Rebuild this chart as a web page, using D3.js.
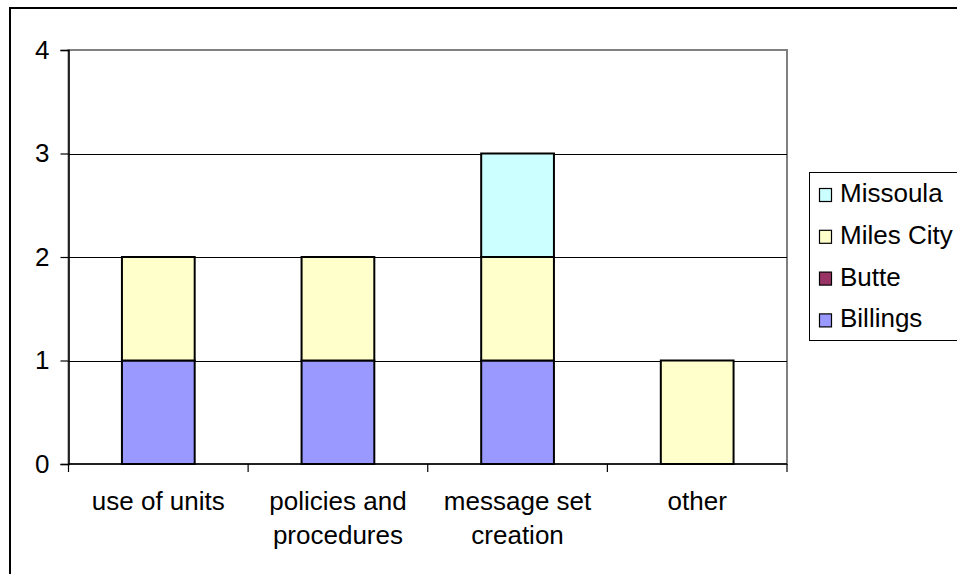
<!DOCTYPE html>
<html>
<head>
<meta charset="utf-8">
<script src="https://cdn.jsdelivr.net/npm/d3@7"></script>
<style>
  html, body { margin: 0; padding: 0; background: #fff; }
  svg { display: block; font-family: "Liberation Sans", Arial, sans-serif; }
</style>
</head>
<body>
<svg id="chart" width="957" height="574"></svg>
<script>
// Categories along the x axis
const categories = ["use of units", "policies and procedures", "message set creation", "other"];

// Stacked series, bottom to top
const billings  = [1, 1, 1, 0];
const butte     = [0, 0, 0, 0];
const milesCity = [1, 1, 1, 1];
const missoula  = [0, 0, 1, 0];

const seriesNames  = ["Billings", "Butte", "Miles City", "Missoula"];
const seriesColors = ["#9999FF", "#993366", "#FFFFCC", "#CCFFFF"];

const yTicks = [0, 1, 2, 3, 4];

const rows = categories.map((c, i) => ({
  category: c,
  "Billings": billings[i],
  "Butte": butte[i],
  "Miles City": milesCity[i],
  "Missoula": missoula[i]
}));

const svg = d3.select("#chart");
const FONT = 26;

const plot = { left: 68.5, right: 787, top: 50, bottom: 464 };

const x = d3.scaleBand()
  .domain(categories)
  .range([plot.left, plot.right])
  .paddingInner(0.595)
  .paddingOuter(0.2975);

const y = d3.scaleLinear()
  .domain([0, 4])
  .range([plot.bottom, plot.top]);

const color = d3.scaleOrdinal().domain(seriesNames).range(seriesColors);

// Outer chart frame (runs past the canvas on the right and bottom)
svg.append("rect")
  .attr("x", 10).attr("y", 8)
  .attr("width", 1100).attr("height", 700)
  .attr("fill", "#fff")
  .attr("stroke", "#000")
  .attr("stroke-width", 2);

// Plot-area border (grey)
svg.append("rect")
  .attr("x", plot.left).attr("y", plot.top)
  .attr("width", plot.right - plot.left)
  .attr("height", plot.bottom - plot.top)
  .attr("fill", "none")
  .attr("stroke", "#808080")
  .attr("stroke-width", 2);

// Horizontal gridlines
svg.append("g")
  .selectAll("line")
  .data(yTicks.filter(t => t > 0 && t < 4))
  .join("line")
  .attr("x1", plot.left).attr("x2", plot.right)
  .attr("y1", d => Math.round(y(d)) + 0.5)
  .attr("y2", d => Math.round(y(d)) + 0.5)
  .attr("stroke", "#000")
  .attr("stroke-width", 1);

// Stacked bars
const stack = d3.stack().keys(seriesNames);
const layers = stack(rows);

svg.append("g")
  .selectAll("g")
  .data(layers)
  .join("g")
  .attr("fill", d => color(d.key))
  .selectAll("rect")
  .data(d => d.filter(s => s[1] - s[0] > 0))
  .join("rect")
  .attr("x", d => x(d.data.category))
  .attr("y", d => y(d[1]))
  .attr("width", x.bandwidth())
  .attr("height", d => y(d[0]) - y(d[1]))
  .attr("stroke", "#000")
  .attr("stroke-width", 2);

// Y axis
const yAxis = d3.axisLeft(y)
  .tickValues(yTicks)
  .tickFormat(d3.format("d"))
  .tickSize(8)
  .tickPadding(11);

const yg = svg.append("g")
  .attr("transform", `translate(${plot.left},0)`)
  .call(yAxis);
yg.select(".domain").attr("stroke", "#000").attr("stroke-width", 1.5);
yg.selectAll(".tick line").attr("stroke", "#000").attr("stroke-width", 1.2);
yg.selectAll(".tick text")
  .attr("font-size", FONT)
  .attr("font-family", "Liberation Sans, Arial, sans-serif")
  .attr("fill", "#000");

// X axis line and category dividers
svg.append("line")
  .attr("x1", plot.left).attr("x2", plot.right)
  .attr("y1", plot.bottom).attr("y2", plot.bottom)
  .attr("stroke", "#000").attr("stroke-width", 1.5);

const dividers = d3.range(categories.length + 1).map(i => plot.left + i * x.step());
svg.append("g")
  .selectAll("line")
  .data(dividers)
  .join("line")
  .attr("x1", d => d).attr("x2", d => d)
  .attr("y1", plot.bottom).attr("y2", plot.bottom + 8)
  .attr("stroke", "#000").attr("stroke-width", 1.2);

// Category labels, wrapped to fit the category width
const labelG = svg.append("g")
  .attr("font-size", FONT)
  .attr("text-anchor", "middle")
  .attr("fill", "#000");

const measurer = svg.append("text").attr("font-size", FONT).attr("visibility", "hidden");
function wrap(label, maxW) {
  const words = label.split(" ");
  const lines = [];
  let cur = "";
  words.forEach(w => {
    const test = cur ? cur + " " + w : w;
    measurer.text(test);
    if (cur && measurer.node().getComputedTextLength() > maxW) {
      lines.push(cur);
      cur = w;
    } else {
      cur = test;
    }
  });
  if (cur) lines.push(cur);
  return lines;
}

categories.forEach(c => {
  const lines = wrap(c, x.step() - 20);
  const t = labelG.append("text")
    .attr("x", x(c) + x.bandwidth() / 2)
    .attr("y", plot.bottom + 46);
  lines.forEach((ln, i) => {
    t.append("tspan")
      .attr("x", x(c) + x.bandwidth() / 2)
      .attr("dy", i === 0 ? 0 : 34)
      .text(ln);
  });
});
measurer.remove();

// Legend
const legend = svg.append("g");
legend.append("rect")
  .attr("x", 809.5).attr("y", 172.5)
  .attr("width", 300).attr("height", 168)
  .attr("fill", "#fff")
  .attr("stroke", "#000")
  .attr("stroke-width", 1);

const legendOrder = seriesNames.slice().reverse();
const li = legend.selectAll("g.item")
  .data(legendOrder)
  .join("g")
  .attr("class", "item")
  .attr("transform", (d, i) => `translate(0,${202 + i * 41.8})`);

li.append("rect")
  .attr("x", 819.5).attr("y", -13.5)
  .attr("width", 12).attr("height", 13)
  .attr("fill", d => color(d))
  .attr("stroke", "#000")
  .attr("stroke-width", 1.2);

li.append("text")
  .attr("x", 840)
  .attr("y", 0)
  .attr("font-size", FONT)
  .attr("fill", "#000")
  .text(d => d);
</script>
</body>
</html>
